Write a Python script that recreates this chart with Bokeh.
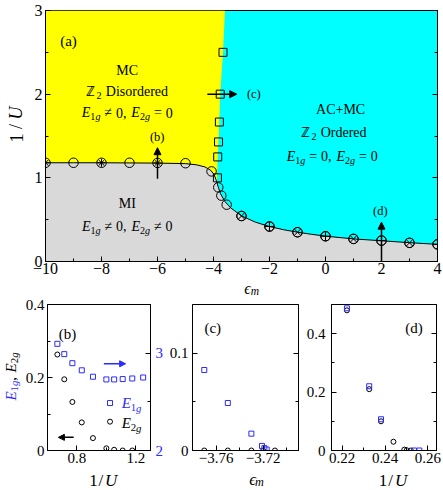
import math
from bokeh.plotting import figure
from bokeh.models import Range1d, LinearAxis, Label, Arrow, NormalHead, SingleIntervalTicker
from bokeh.layouts import column, row
from bokeh.embed import file_html
from bokeh.resources import INLINE

FONT = "Liberation Serif"
YELLOW = "#ffff00"
CYAN = "#00ffff"
GRAY = "#d9d9d9"
BLUE = "#2b2bff"

# ---------------- data: panel (a) phase diagram ----------------
a_circ_eps = [-10, -9, -8, -7, -6, -5, -4.07, -3.83, -3.72, -3.53, -3, -2, -1, 0, 1, 2, 3, 4]
a_circ_invU = [1.18, 1.18, 1.18, 1.18, 1.178, 1.175, 1.077, 0.886, 0.787, 0.679, 0.544, 0.418,
               0.35, 0.302, 0.27, 0.25, 0.223, 0.205]
a_star_eps = [-10, -8, -6]
a_x_eps = [-3, -1, 1, 3]
a_plus_eps = [-2, 0, 2, 4]
a_sq_eps = [-3.66, -3.76, -3.79, -3.82, -3.85, -3.86]
a_sq_invU = [2.5, 2.0, 1.667, 1.429, 1.25, 1.0]
a_mi_eps = [-10, -9, -8, -7, -6, -5, -4.6, -4.3, -4.1, -3.98, -3.9, -3.83, -3.75, -3.6, -3.4,
            -3.0, -2.5, -2.0, -1.5, -1.0, -0.5, 0, 1, 2, 3, 4]
a_mi_invU = [1.18, 1.18, 1.18, 1.178, 1.176, 1.17, 1.155, 1.13, 1.09, 1.04, 0.97, 0.89, 0.81,
             0.72, 0.645, 0.545, 0.47, 0.418, 0.38, 0.35, 0.325, 0.303, 0.27, 0.248, 0.225, 0.205]
a_z2_eps = [-3.59, -3.66, -3.76, -3.79, -3.82, -3.85, -3.87, -3.89]
a_z2_invU = [3.0, 2.5, 2.0, 1.667, 1.429, 1.25, 1.0, 0.9]

# ---------------- data: panel (b) ----------------
b_invU = [0.667, 0.714, 0.769, 0.833, 0.909, 1.0, 1.053, 1.111, 1.176, 1.25]
b_E1g = [3.096, 2.99, 2.897, 2.824, 2.758, 2.73, 2.73, 2.734, 2.74, 2.75]
b_E2g = [0.263, 0.195, 0.133, 0.077, 0.034, 0.006, 0.002, 0.0, 0.0]

# ---------------- data: panel (c) ----------------
c_eps_E1g = [-3.77, -3.75, -3.73, -3.721, -3.719, -3.717]
c_E1g = [0.0827, 0.0488, 0.0173, 0.0047, 0.0024, 0.001]
c_eps_E2g = [-3.77, -3.75, -3.73, -3.72, -3.71]
c_E2g = [0.0, 0.0, 0.0, 0.0, 0.0]

# ---------------- data: panel (d) ----------------
d_invU_E1g = [0.2222, 0.2326, 0.2381, 0.2535, 0.2560]
d_E1g = [0.487, 0.220, 0.107, 0.0, 0.0]
d_invU_E2g = [0.2222, 0.2326, 0.2381, 0.2439, 0.2490, 0.2501, 0.2520]
d_E2g = [0.480, 0.210, 0.100, 0.030, 0.003, 0.001, 0.0]

# ---------------- helpers ----------------
ROMAN_W = {' ': 250, ',': 250, '(': 333, ')': 333, '=': 564, '+': 564, '/': 278, '\u2260': 549,
           'A': 722, 'C': 667, 'D': 722, 'I': 333, 'M': 889, 'O': 722, 'a': 444, 'b': 500,
           'c': 444, 'd': 500, 'e': 444, 'i': 278, 'o': 500, 'r': 333, 's': 389, '\u2124': 722}
ITALIC_W = {'E': 611, 'g': 500, 'U': 722, 'm': 722, '\u03f5': 440}


def text_w(t, size, italic):
    tab = ITALIC_W if italic else ROMAN_W
    return sum(tab.get(ch, ROMAN_W.get(ch, 500)) for ch in t) * size / 1000.0


def gap(em):
    return (None, em)


def rich(p, x, y, parts, size, sx=1.0, sy=1.0, angle=0.0, color="black", align="center", drop_f=0.3):
    items = []
    for part in parts:
        if part[0] is None:
            items.append((None, 0, False, False, None, part[1] * size))
            continue
        t, style = part[0], part[1]
        col = part[2] if len(part) > 2 else color
        sub = style.startswith("s")
        fs = size * 0.72 if sub else size
        ital = style.endswith("i")
        items.append((t, fs, ital, sub, col, text_w(t, fs, ital)))
    total = sum(it[5] for it in items)
    pos = -total / 2.0 if align == "center" else 0.0
    for t, fs, ital, sub, col, w in items:
        if t is not None:
            drop = drop_f * size if sub else 0.0
            if angle == 0:
                dx, dy = pos, -drop
            else:
                dx, dy = drop, pos
            p.add_layout(Label(x=x + dx / sx, y=y + dy / sy, text=t, angle=angle,
                               text_font=FONT, text_font_size="%.1fpx" % fs,
                               text_font_style="italic" if ital else "normal",
                               text_color=col, text_align="left", text_baseline="middle"))
        pos += w


def mk_fig(w, h, xr, yr, bl, br, bt, bb, bg="white"):
    p = figure(width=w, height=h, x_range=Range1d(*xr), y_range=Range1d(*yr),
               output_backend="svg", toolbar_location=None,
               min_border_left=bl, min_border_right=br, min_border_top=bt, min_border_bottom=bb,
               background_fill_color=bg, border_fill_color="white",
               outline_line_color="black", outline_line_width=1)
    p.grid.visible = False
    return p


def label_fig(w, h):
    f = figure(width=w, height=h, x_range=Range1d(0, w), y_range=Range1d(0, h),
               output_backend="svg", toolbar_location=None, min_border=0,
               x_axis_location=None, y_axis_location=None, outline_line_color=None,
               background_fill_color="white", border_fill_color="white")
    f.grid.visible = False
    return f


def style_axis(ax, size, standoff, ticker, color="black", hide=False, overrides=None):
    ax.ticker = ticker
    ax.major_tick_in = 5
    ax.major_tick_out = 0
    ax.minor_tick_in = 3
    ax.minor_tick_out = 0
    ax.axis_line_color = "black"
    ax.major_tick_line_color = "black"
    ax.minor_tick_line_color = "black"
    ax.major_label_text_font = FONT
    if hide:
        ax.major_label_text_font_size = "0px"
        ax.major_label_text_color = None
        ax.major_label_standoff = 0
    else:
        ax.major_label_text_font_size = "%dpx" % size
        ax.major_label_text_color = color
        ax.major_label_standoff = standoff
    if overrides:
        ax.major_label_overrides = overrides


def arrow(p, x0, y0, x1, y1, color="black", size=7, lw=1.5):
    p.add_layout(Arrow(end=NormalHead(size=size, fill_color=color, line_color=color),
                       x_start=x0, y_start=y0, x_end=x1, y_end=y1,
                       line_color=color, line_width=lw))


def E_line(op1, op2):
    return [("E", "i"), ("1", "sr"), ("g", "si"), gap(0.28), (op1, "r"), gap(0.28), ("0", "r"),
            (",", "r"), gap(0.35), ("E", "i"), ("2", "sr"), ("g", "si"), gap(0.28), (op2, "r"),
            gap(0.28), ("0", "r")]


ONE_OVER_U = [("1", "r"), gap(0.25), ("/", "r"), gap(0.25), ("U", "i")]
EPS_M = [("\u03f5", "i"), ("m", "si")]

# ---------------- panel (a) ----------------
pa = mk_fig(418, 280, (-10, 4), (0, 3), 20, 6, 10, 19, bg=CYAN)
style_axis(pa.xaxis[0], 16, 1, SingleIntervalTicker(interval=2, num_minor_ticks=2))
style_axis(pa.yaxis[0], 16, 3, SingleIntervalTicker(interval=1, num_minor_ticks=2))
ra = LinearAxis()
style_axis(ra, 16, 0, SingleIntervalTicker(interval=1, num_minor_ticks=2), hide=True)
pa.add_layout(ra, "right")

cut = a_z2_eps[-1]
low = [(e, v) for e, v in zip(a_mi_eps, a_mi_invU) if e < cut]
yel_x = [a_mi_eps[0]] + a_z2_eps + [e for e, _ in reversed(low)]
yel_y = [a_z2_invU[0]] + a_z2_invU + [v for _, v in reversed(low)]
pa.patch(yel_x, yel_y, fill_color=YELLOW, line_color=None)
pa.varea(x=a_mi_eps, y1=[0] * len(a_mi_eps), y2=a_mi_invU, fill_color=GRAY)
pa.line(a_mi_eps, a_mi_invU, line_color="black", line_width=1)

lookup = dict(zip(a_circ_eps, a_circ_invU))
pa.scatter(a_circ_eps, a_circ_invU, marker="circle", size=9.5, fill_alpha=0,
           line_color="black", line_width=1)
pa.scatter(a_star_eps, [lookup[e] for e in a_star_eps], marker="asterisk", size=8,
           line_color="black", line_width=1)
pa.scatter(a_x_eps, [lookup[e] for e in a_x_eps], marker="circle_x", size=9.5, fill_alpha=0,
           line_color="black", line_width=1)
pa.scatter(a_plus_eps, [lookup[e] for e in a_plus_eps], marker="circle_cross", size=9.5,
           fill_alpha=0, line_color="black", line_width=1)
pa.scatter(a_sq_eps, a_sq_invU, marker="square", size=8, fill_alpha=0,
           line_color="black", line_width=1)

SXA, SYA = 392 / 14.0, 251 / 3.0
TS = 14
rich(pa, -9.18, 2.64, [("(a)", "r")], 15, SXA, SYA)
rich(pa, -7.08, 2.28, [("MC", "r")], TS, SXA, SYA)
rich(pa, -7.08, 2.035, [("\u2124", "r"), ("2", "sr"), gap(0.3), ("Disordered", "r")], TS, SXA, SYA)
rich(pa, -7.08, 1.78, E_line("\u2260", "="), TS, SXA, SYA)
rich(pa, 0.54, 1.82, [("AC+MC", "r")], TS, SXA, SYA)
rich(pa, 0.30, 1.54, [("\u2124", "r"), ("2", "sr"), gap(0.3), ("Ordered", "r")], TS, SXA, SYA)
rich(pa, 0.24, 1.255, E_line("=", "="), TS, SXA, SYA)
rich(pa, -7.08, 0.69, [("MI", "r")], TS, SXA, SYA)
rich(pa, -7.08, 0.42, E_line("\u2260", "\u2260"), TS, SXA, SYA)
rich(pa, -6.01, 1.49, [("(b)", "r")], 12.5, SXA, SYA)
rich(pa, -2.56, 2.0, [("(c)", "r")], 12.5, SXA, SYA)
rich(pa, 1.96, 0.60, [("(d)", "r")], 12.5, SXA, SYA)
arrow(pa, -6, 0.99, -6, 1.36)
arrow(pa, -4.22, 2.0, -3.17, 2.0)
arrow(pa, 2, 0.0, 2, 0.47)

# axis titles for (a) in text-only strips
lab_ay = label_fig(25, 296)
rich(lab_ay, 15.5, 172, ONE_OVER_U, 18, angle=math.pi / 2)
lab_ax = label_fig(418, 16)
rich(lab_ax, 219.5, 8, EPS_M, 16, drop_f=0.15)

# ---------------- panel (b) ----------------
pb = mk_fig(144, 174, (0.6, 1.3), (0, 0.4), 23, 16, 8, 20)
pb.extra_y_ranges = {"e1g": Range1d(2, 3.5)}
style_axis(pb.xaxis[0], 15, 2, SingleIntervalTicker(interval=0.4, num_minor_ticks=2))
style_axis(pb.yaxis[0], 15, 3, SingleIntervalTicker(interval=0.2, num_minor_ticks=2),
           overrides={0: "0"})
rb = LinearAxis(y_range_name="e1g")
style_axis(rb, 15, 5, SingleIntervalTicker(interval=1, num_minor_ticks=2), color=BLUE)
pb.add_layout(rb, "right")
pb.scatter(b_invU, b_E1g, marker="square", size=5, fill_alpha=0, line_color=BLUE,
           line_width=1, y_range_name="e1g")
pb.scatter(b_invU[:len(b_E2g)], b_E2g, marker="circle", size=5, fill_alpha=0,
           line_color="black", line_width=1)
SXB, SYB = 105 / 0.7, 146 / 0.4
pb.scatter([1.025], [0.13], marker="square", size=5, fill_alpha=0, line_color=BLUE)
pb.scatter([1.025], [0.079], marker="circle", size=5, fill_alpha=0, line_color="black")
rich(pb, 1.105, 0.13, [("E", "i"), ("1", "sr"), ("g", "si")], 15, SXB, SYB, color=BLUE, align="left")
rich(pb, 1.105, 0.074, [("E", "i"), ("2", "sr"), ("g", "si")], 15, SXB, SYB, align="left")
rich(pb, 0.734, 0.319, [("(b)", "r")], 15, SXB, SYB)
arrow(pb, 0.983, 0.2376, 1.131, 0.2376, color=BLUE, size=6, lw=1.5)
arrow(pb, 0.778, 0.036, 0.674, 0.036, color="black", size=6, lw=1.5)

lab_by = label_fig(22, 193)
rich(lab_by, 10.5, 193 - (376 - 296), [("E", "i", BLUE), ("1", "sr", BLUE), ("g", "si", BLUE),
                                       (",", "r"), gap(0.3), ("E", "i"), ("2", "sr"), ("g", "si")],
     15, angle=math.pi / 2, drop_f=0.22)
lab_bx = label_fig(144, 19)
rich(lab_bx, 75.5, 9.5, ONE_OVER_U, 17)

# ---------------- panel (c) ----------------
pc = mk_fig(137, 174, (-3.78, -3.69), (0, 0.15), 26, 5, 8, 20)
style_axis(pc.xaxis[0], 15, 2, SingleIntervalTicker(interval=0.04, num_minor_ticks=2))
style_axis(pc.yaxis[0], 15, 4, SingleIntervalTicker(interval=0.1, num_minor_ticks=2),
           overrides={0: "0"})
rc = LinearAxis()
style_axis(rc, 15, 0, SingleIntervalTicker(interval=0.1, num_minor_ticks=2), hide=True)
pc.add_layout(rc, "right")
pc.scatter(c_eps_E2g, c_E2g, marker="circle", size=5, fill_alpha=0, line_color="black", line_width=1)
pc.scatter(c_eps_E1g, c_E1g, marker="square", size=5, fill_alpha=0, line_color=BLUE, line_width=1)
SXC, SYC = 106 / 0.09, 146 / 0.15
rich(pc, -3.7628, 0.1254, [("(c)", "r")], 15, SXC, SYC)
lab_cx = label_fig(137, 19)
rich(lab_cx, 81.5, 10.5, EPS_M, 17, drop_f=0.2)

# ---------------- panel (d) ----------------
pd = mk_fig(140, 174, (0.215, 0.264), (0, 0.5), 27, 7, 8, 20)
style_axis(pd.xaxis[0], 15, 2, SingleIntervalTicker(interval=0.02, num_minor_ticks=2))
style_axis(pd.yaxis[0], 15, 6, SingleIntervalTicker(interval=0.2, num_minor_ticks=2),
           overrides={0: "0"})
rd = LinearAxis()
style_axis(rd, 15, 0, SingleIntervalTicker(interval=0.2, num_minor_ticks=2), hide=True)
pd.add_layout(rd, "right")
pd.scatter(d_invU_E2g, d_E2g, marker="circle", size=5, fill_alpha=0, line_color="black", line_width=1)
pd.scatter(d_invU_E1g, d_E1g, marker="square", size=5, fill_alpha=0, line_color=BLUE, line_width=1)
SXD, SYD = 106 / 0.049, 146 / 0.5
rich(pd, 0.2535, 0.42, [("(d)", "r")], 15, SXD, SYD)
lab_dx = label_fig(140, 19)
rich(lab_dx, 80, 9.5, ONE_OVER_U, 17)

layout = column(
    row(lab_ay, column(pa, lab_ax)),
    row(lab_by, column(pb, lab_bx), column(pc, lab_cx), column(pd, lab_dx)),
)
open("out.html", "w").write(file_html(layout, INLINE))
